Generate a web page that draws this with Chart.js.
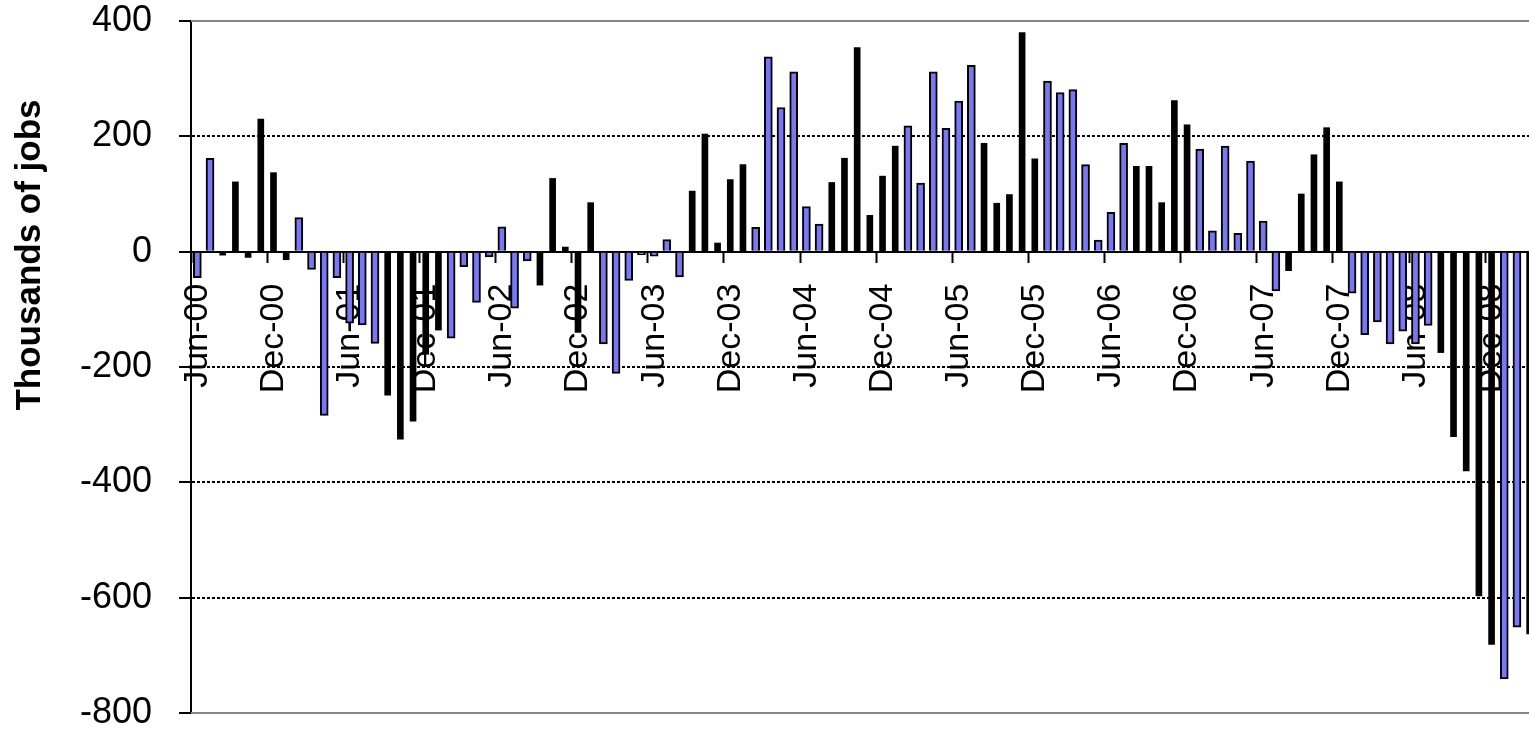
<!DOCTYPE html>
<html>
<head>
<meta charset="utf-8">
<title>Monthly change in payroll jobs</title>
<script src="https://cdn.jsdelivr.net/npm/chart.js@4.4.0/dist/chart.umd.min.js"></script>
<style>
  html, body { margin: 0; padding: 0; background: #fff; overflow: hidden; }
  #wrap { width: 1529px; height: 731px; overflow: hidden; }
</style>
</head>
<body>
<div id="wrap"><canvas id="jobsChart" width="1539" height="731"></canvas></div>
<script>
const months = [
  "Jun-00","Jul-00","Aug-00","Sep-00","Oct-00","Nov-00","Dec-00",
  "Jan-01","Feb-01","Mar-01","Apr-01","May-01","Jun-01","Jul-01","Aug-01","Sep-01","Oct-01","Nov-01","Dec-01",
  "Jan-02","Feb-02","Mar-02","Apr-02","May-02","Jun-02","Jul-02","Aug-02","Sep-02","Oct-02","Nov-02","Dec-02",
  "Jan-03","Feb-03","Mar-03","Apr-03","May-03","Jun-03","Jul-03","Aug-03","Sep-03","Oct-03","Nov-03","Dec-03",
  "Jan-04","Feb-04","Mar-04","Apr-04","May-04","Jun-04","Jul-04","Aug-04","Sep-04","Oct-04","Nov-04","Dec-04",
  "Jan-05","Feb-05","Mar-05","Apr-05","May-05","Jun-05","Jul-05","Aug-05","Sep-05","Oct-05","Nov-05","Dec-05",
  "Jan-06","Feb-06","Mar-06","Apr-06","May-06","Jun-06","Jul-06","Aug-06","Sep-06","Oct-06","Nov-06","Dec-06",
  "Jan-07","Feb-07","Mar-07","Apr-07","May-07","Jun-07","Jul-07","Aug-07","Sep-07","Oct-07","Nov-07","Dec-07",
  "Jan-08","Feb-08","Mar-08","Apr-08","May-08","Jun-08","Jul-08","Aug-08","Sep-08","Oct-08","Nov-08","Dec-08",
  "Jan-09","Feb-09","Mar-09"
];

// monthly change, thousands of jobs
const jobChange = [
  -45, 162, -6, 121, -10, 230, 137,
  -14, 59, -31, -284, -45, -124, -127, -159, -249, -325, -294, -178,
  -136, -150, -26, -88, -9, 43, -98, -16, -58, 127, 8, -140,
  85, -160, -211, -50, -5, -8, 21, -44, 105, 204, 15, 125,
  151, 42, 338, 250, 312, 78, 48, 120, 162, 354, 63, 131,
  183, 218, 119, 312, 214, 261, 323, 188, 84, 99, 380, 161,
  296, 276, 281, 151, 20, 68, 188, 148, 148, 85, 262, 220,
  178, 36, 183, 32, 157, 53, -68, -33, 100, 168, 215, 121,
  -72, -144, -122, -160, -138, -160, -128, -175, -321, -380, -597, -681,
  -741, -651, -663
];

// 1 = drawn as a solid black bar, 0 = blue bar
const darkBar = [
  0, 0, 1, 1, 1, 1, 1,
  1, 0, 0, 0, 0, 0, 0, 0, 1, 1, 1, 1,
  1, 0, 0, 0, 0, 0, 0, 0, 1, 1, 1, 1,
  1, 0, 0, 0, 0, 0, 0, 0, 1, 1, 1, 1,
  1, 0, 0, 0, 0, 0, 0, 1, 1, 1, 1, 1,
  1, 0, 0, 0, 0, 0, 0, 1, 1, 1, 1, 1,
  0, 0, 0, 0, 0, 0, 0, 1, 1, 1, 1, 1,
  0, 0, 0, 0, 0, 0, 0, 1, 1, 1, 1, 1,
  0, 0, 0, 0, 0, 0, 0, 1, 1, 1, 1, 1,
  0, 0, 1
];

const yTicks = [400, 200, 0, -200, -400, -600, -800];
const yTitle = "Thousands of jobs";
const labelEvery = 6;

const FONT = '"Liberation Sans", Arial, sans-serif';
Chart.defaults.font.family = FONT;
Chart.defaults.color = "#000";

const blueVals = jobChange.map((v, i) => darkBar[i] ? null : v);
const darkVals = jobChange.map((v, i) => darkBar[i] ? v : null);

// gray plot frame + rotated axis title
const frameAndTitle = {
  id: "frameAndTitle",
  beforeDatasetsDraw(chart) {
    const { ctx, chartArea: a } = chart;
    ctx.save();
    ctx.strokeStyle = "#858585";
    ctx.lineWidth = 2;
    ctx.beginPath();
    ctx.moveTo(a.left, a.top); ctx.lineTo(a.right, a.top);
    ctx.moveTo(a.left, a.bottom); ctx.lineTo(a.right, a.bottom);
    ctx.stroke();
    ctx.restore();
  },
  afterDraw(chart) {
    const ctx = chart.ctx;
    ctx.save();
    ctx.translate(30, 255);
    ctx.rotate(-Math.PI / 2);
    ctx.font = "bold 35px " + FONT;
    ctx.textAlign = "center";
    ctx.textBaseline = "middle";
    ctx.fillStyle = "#000";
    ctx.fillText(yTitle, 0, 0);
    ctx.restore();
  }
};

new Chart(document.getElementById("jobsChart"), {
  type: "bar",
  data: {
    labels: months,
    datasets: [
      {
        label: "blue",
        data: blueVals,
        backgroundColor: "#7878f4",
        borderColor: "#000",
        borderWidth: 2,
        barThickness: 8,
        grouped: false
      },
      {
        label: "black",
        data: darkVals,
        backgroundColor: "#000",
        borderWidth: 0,
        barThickness: 6,
        grouped: false
      }
    ]
  },
  options: {
    responsive: false,
    devicePixelRatio: 1,
    animation: false,
    layout: { padding: { top: 21, bottom: 18, left: 0, right: 3 } },
    plugins: { legend: { display: false }, tooltip: { enabled: false } },
    scales: {
      x: {
        position: { y: 0 },
        z: 1,
        offset: true,
        afterFit: s => { s.paddingLeft = 0; s.paddingRight = 0; },
        ticks: {
          autoSkip: false,
          minRotation: 90,
          maxRotation: 90,
          padding: 22,
          color: "#000",
          font: { size: 34 },
          callback: (v, i) => (i % labelEvery === 0 ? months[i] : "")
        },
        grid: {
          drawOnChartArea: false,
          offset: true,
          tickLength: 10,
          tickWidth: 2,
          tickColor: c => (c.index % labelEvery === 0 ? "#000" : "rgba(0,0,0,0)")
        },
        border: { display: true, color: "#000", width: 2 }
      },
      y: {
        min: -800,
        max: 400,
        afterBuildTicks: s => { s.ticks = yTicks.map(v => ({ value: v })); },
        afterFit: s => { s.width = 191; s.paddingTop = 0; s.paddingBottom = 0; },
        ticks: { padding: 27, color: "#000", font: { size: 36 } },
        grid: {
          lineWidth: 2,
          color: c => (c.tick && (c.tick.value === 400 || c.tick.value === -800) ? "rgba(0,0,0,0)" : "#000"),
          tickColor: "#000",
          tickLength: 12,
          tickWidth: 2
        },
        border: { display: true, color: "#000", width: 2, dash: [3, 2] }
      }
    }
  },
  plugins: [frameAndTitle]
});
</script>
</body>
</html>
